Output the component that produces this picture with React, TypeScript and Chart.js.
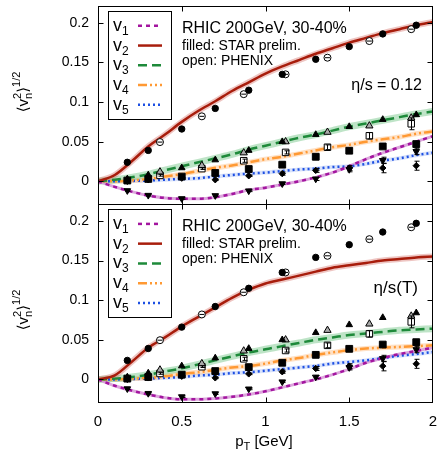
import React, { useEffect, useRef } from "react";
import { Chart, registerables } from "chart.js";

Chart.register(...registerables);

const FONT = '"Liberation Sans", "DejaVu Sans", Arial, sans-serif';

// ---- model curves (pT grid in GeV) ----
const ptModel = [0, 0.1, 0.2, 0.3, 0.4, 0.5, 0.6, 0.7, 0.8, 0.9, 1.0, 1.1, 1.2, 1.3, 1.4, 1.5, 1.6, 1.7, 1.8, 1.9, 2.0];

// top panel: eta/s = 0.12
const v1Const = [0, -0.007, -0.013, -0.018, -0.021, -0.022, -0.022, -0.02, -0.016, -0.011, -0.008, -0.004, 0.0, 0.005, 0.011, 0.019, 0.028, 0.036, 0.043, 0.05, 0.057];
const v2Const = [0, 0.008, 0.025, 0.044, 0.059, 0.075, 0.089, 0.101, 0.114, 0.125, 0.136, 0.145, 0.153, 0.161, 0.168, 0.175, 0.181, 0.187, 0.192, 0.197, 0.201];
const v3Const = [0, 0.002, 0.005, 0.009, 0.014, 0.019, 0.024, 0.029, 0.034, 0.04, 0.045, 0.05, 0.055, 0.059, 0.064, 0.069, 0.073, 0.077, 0.081, 0.085, 0.088];
const v4Const = [0, 0.0, 0.001, 0.003, 0.006, 0.009, 0.013, 0.017, 0.02, 0.024, 0.028, 0.031, 0.035, 0.039, 0.043, 0.046, 0.05, 0.053, 0.056, 0.06, 0.063];
const v5Const = [0, 0.0, 0.0005, 0.001, 0.002, 0.003, 0.004, 0.006, 0.008, 0.0097, 0.011, 0.013, 0.015, 0.016, 0.018, 0.019, 0.022, 0.026, 0.029, 0.033, 0.036];

// bottom panel: eta/s(T)
const v1Temp = [0, -0.008, -0.014, -0.019, -0.023, -0.025, -0.025, -0.024, -0.022, -0.019, -0.015, -0.01, -0.005, 0.0, 0.006, 0.013, 0.021, 0.027, 0.032, 0.036, 0.04];
const v2Temp = [0, 0.005, 0.022, 0.04, 0.053, 0.067, 0.079, 0.091, 0.103, 0.113, 0.121, 0.126, 0.131, 0.136, 0.141, 0.144, 0.147, 0.15, 0.152, 0.154, 0.155];
const v3Temp = [0, 0.001, 0.003, 0.006, 0.01, 0.014, 0.019, 0.024, 0.029, 0.034, 0.038, 0.042, 0.046, 0.05, 0.053, 0.056, 0.058, 0.06, 0.062, 0.063, 0.064];
const v4Temp = [0, 0.0, 0.001, 0.002, 0.004, 0.007, 0.009, 0.012, 0.015, 0.017, 0.02, 0.024, 0.027, 0.031, 0.034, 0.037, 0.039, 0.04, 0.041, 0.042, 0.043];
const v5Temp = [0, 0.0, 0.0005, 0.001, 0.002, 0.003, 0.005, 0.006, 0.008, 0.009, 0.011, 0.013, 0.015, 0.017, 0.02, 0.022, 0.024, 0.027, 0.03, 0.032, 0.0345];

// ---- STAR preliminary (filled) ----
const ptStar = [0.175, 0.3, 0.5, 0.7, 0.9, 1.1, 1.3, 1.5, 1.7, 1.9];
const v1Star = [-0.0117, -0.0176, -0.0218, -0.018, -0.012, -0.003, 0.003, 0.015, 0.0264, 0.0377];
const v1StarErr = [0.001, 0.001, 0.001, 0.001, 0.001, 0.001, 0.002, 0.003, 0.004, 0.004];
const v2Star = [0.024, 0.039, 0.066, 0.092, 0.115, 0.135, 0.154, 0.17, 0.186, 0.197];
const v3Star = [0.003, 0.008, 0.017, 0.027, 0.039, 0.05, 0.059, 0.069, 0.078, 0.084];
const v4Star = [0.001, 0.003, 0.006, 0.0105, 0.0155, 0.021, 0.031, 0.0386, 0.044, 0.047];
const v5Star = [0.0, 0.002, 0.004, 0.002, 0.007, 0.0097, 0.0138, 0.0168, 0.0168, 0.0197];
const v5StarErr = [0.002, 0.001, 0.001, 0.001, 0.001, 0.002, 0.0025, 0.003, 0.006, 0.0057];

// ---- PHENIX (open) ----
const ptPhenix = [0.37, 0.62, 0.87, 1.12, 1.37, 1.62, 1.87];
const v2Phenix = [0.0495, 0.082, 0.11, 0.135, 0.156, 0.177, 0.192];
const v3Phenix = [0.012, 0.02, 0.036, 0.05, 0.062, 0.07, 0.08];
const v4Phenix = [0.0075, 0.016, 0.026, 0.0365, 0.043, 0.0575, 0.0726];
const v4PhenixErr = [0.001, 0.001, 0.002, 0.002, 0.003, 0.004, 0.0075];

const yTickValues = [0, 0.05, 0.1, 0.15, 0.2];
const xTickValues = [0, 0.5, 1, 1.5, 2];
const harmonicLabels = ["1", "2", "3", "4", "5"];
const headerLines = ["RHIC 200GeV, 30-40%", "filled: STAR prelim.", "open: PHENIX"];
const panelNotes = ["\u03b7/s = 0.12", "\u03b7/s(T)"];

// ---- styles ----
const curveStyles = [
  { color: "#a3159f", band: "rgba(215,150,215,0.85)", bandWidth: 3, dash: [4, 4], width: 2.5 },
  { color: "#a81d0c", band: "rgba(205,90,80,0.35)", bandWidth: 6, dash: [], width: 2.5 },
  { color: "#1e8a3a", band: "rgba(110,195,130,0.45)", bandWidth: 7, dash: [9, 5], width: 2.5 },
  { color: "#ff9933", band: "rgba(255,195,140,0.5)", bandWidth: 5, dash: [9, 3, 2, 3, 2, 3], width: 2.5 },
  { color: "#1c4fe3", band: "rgba(130,160,240,0.3)", bandWidth: 4, dash: [2, 3], width: 2.5 },
];
const noteLayout = [
  { right: 422, base: 84, size: 16 },
  { right: 418, base: 89, size: 17 },
];
const yTitleCenters = [92, 310];

type Seg = { t: string; size: number; dy: number; stack?: boolean };

function drawSegs(ctx: CanvasRenderingContext2D, segs: Seg[], x: number, y: number, measureOnly = false): number {
  let cx = x;
  let lastStart = x;
  let lastW = 0;
  for (const s of segs) {
    ctx.font = `${s.size}px ${FONT}`;
    const sw = ctx.measureText(s.t).width;
    if (s.stack) {
      if (!measureOnly) ctx.fillText(s.t, lastStart, y + s.dy);
      const nw = Math.max(lastW, sw);
      cx = lastStart + nw;
      lastW = nw;
    } else {
      if (!measureOnly) ctx.fillText(s.t, cx, y + s.dy);
      lastStart = cx;
      lastW = sw;
      cx += sw;
    }
  }
  return cx - x;
}

const decorPlugin = {
  id: "decor",
  afterDatasetsDraw(chart: any) {
    const ctx: CanvasRenderingContext2D = chart.ctx;
    chart.data.datasets.forEach((ds: any, i: number) => {
      if (!ds.errs) return;
      const meta = chart.getDatasetMeta(i);
      const sc = chart.scales[ds.yAxisID];
      ctx.save();
      ctx.strokeStyle = "#000";
      ctx.lineWidth = 1;
      meta.data.forEach((pt: any, j: number) => {
        const e = ds.errs[j];
        if (!e) return;
        const v = ds.data[j].y;
        const y1 = sc.getPixelForValue(v + e);
        const y2 = sc.getPixelForValue(v - e);
        const x = Math.round(pt.x) + 0.5;
        ctx.beginPath();
        ctx.moveTo(x, y1);
        ctx.lineTo(x, y2);
        ctx.moveTo(x - 2, y1);
        ctx.lineTo(x + 3, y1);
        ctx.moveTo(x - 2, y2);
        ctx.lineTo(x + 3, y2);
        ctx.stroke();
      });
      ctx.restore();
    });
  },
  afterDraw(chart: any) {
    const ctx: CanvasRenderingContext2D = chart.ctx;
    const xs = chart.scales.x;
    const panels = [chart.scales.yTop, chart.scales.yBot];
    ctx.save();
    ctx.fillStyle = "#000";
    ctx.strokeStyle = "#000";
    ctx.textAlign = "left";
    ctx.textBaseline = "alphabetic";
    panels.forEach((ys: any, p: number) => {
      const L = Math.round(xs.left) + 0.5;
      const R = Math.round(xs.right) - 0.5;
      const T = Math.round(ys.top) + 0.5;
      const B = Math.round(ys.bottom) + 0.5;
      ctx.lineWidth = 1;
      ctx.setLineDash([]);
      ctx.strokeRect(L, T, R - L, B - T);
      ctx.beginPath();
      yTickValues.forEach((v) => {
        const y = Math.round(ys.getPixelForValue(v)) + 0.5;
        ctx.moveTo(L, y);
        ctx.lineTo(L + 5, y);
        ctx.moveTo(R, y);
        ctx.lineTo(R - 5, y);
      });
      xTickValues.slice(1, -1).forEach((v) => {
        const x = Math.round(xs.getPixelForValue(v)) + 0.5;
        ctx.moveTo(x, B);
        ctx.lineTo(x, B - 5);
        ctx.moveTo(x, T);
        ctx.lineTo(x, T + 5);
      });
      ctx.stroke();

      const pt = ys.top;
      // legend box
      ctx.fillStyle = "#fff";
      ctx.fillRect(108, pt + 5.5, 63, 108);
      ctx.strokeRect(108.5, Math.round(pt + 5.5) + 0.5, 63, 108);
      ctx.fillStyle = "#000";
      harmonicLabels.forEach((lab, i) => {
        const sy = pt + 20 + i * 19.75;
        drawSegs(ctx, [{ t: "v", size: 18, dy: 0 }, { t: lab, size: 12, dy: 4 }], 113, sy + 5);
        const st = curveStyles[i];
        ctx.save();
        ctx.lineCap = "butt";
        ctx.beginPath();
        ctx.moveTo(138, sy);
        ctx.lineTo(162, sy);
        ctx.strokeStyle = st.color;
        ctx.lineWidth = st.width;
        ctx.setLineDash(st.dash);
        ctx.stroke();
        ctx.restore();
      });
      // header text
      ctx.fillStyle = "#000";
      ctx.font = `16px ${FONT}`;
      ctx.fillText(headerLines[0], 182, pt + 27);
      ctx.font = `14px ${FONT}`;
      ctx.fillText(headerLines[1], 182, pt + 44);
      ctx.fillText(headerLines[2], 182, pt + 59.5);
      // note
      const nl = noteLayout[p];
      ctx.textAlign = "right";
      ctx.font = `${nl.size}px ${FONT}`;
      ctx.fillText(panelNotes[p], nl.right, pt + nl.base);
      ctx.textAlign = "left";

      // y title
      const ySegs: Seg[] = [
        { t: "\u27e8v", size: 15, dy: 0 },
        { t: "n", size: 11, dy: 4 },
        { t: "2", size: 11, dy: -7, stack: true },
        { t: "\u27e9", size: 15, dy: 0 },
        { t: "1/2", size: 11, dy: -8 },
      ];
      const w = drawSegs(ctx, ySegs, 0, 0, true);
      ctx.save();
      ctx.translate(27.5, yTitleCenters[p]);
      ctx.rotate(-Math.PI / 2);
      drawSegs(ctx, ySegs, -w / 2, 0);
      ctx.restore();
    });
    // x title
    const xSegs: Seg[] = [
      { t: "p", size: 15, dy: 0 },
      { t: "T", size: 11, dy: 4 },
      { t: " [GeV]", size: 15, dy: 0 },
    ];
    const xw = drawSegs(ctx, xSegs, 0, 0, true);
    drawSegs(ctx, xSegs, 264 - xw / 2, 446);
    ctx.restore();
  },
};

function pts(xs: number[], ys: number[]) {
  return xs.map((x, i) => ({ x, y: ys[i] }));
}

function buildDatasets() {
  const ds: any[] = [];
  const panels = [
    { id: "yTop", curves: [v1Const, v2Const, v3Const, v4Const, v5Const] },
    { id: "yBot", curves: [v1Temp, v2Temp, v3Temp, v4Temp, v5Temp] },
  ];
  panels.forEach((p) => {
    p.curves.forEach((c, i) => {
      const st = curveStyles[i];
      ds.push({
        data: pts(ptModel, c), yAxisID: p.id, showLine: true, pointRadius: 0,
        borderColor: st.band, borderWidth: st.bandWidth, cubicInterpolationMode: "monotone", order: 4,
      });
      ds.push({
        data: pts(ptModel, c), yAxisID: p.id, showLine: true, pointRadius: 0,
        borderColor: st.color, borderWidth: st.width, borderDash: st.dash, cubicInterpolationMode: "monotone", order: 3,
      });
    });
    const mk = (x: number[], y: number[], style: any, extra: any = {}) =>
      ds.push({ data: pts(x, y), yAxisID: p.id, showLine: false, pointBorderColor: "#000", pointBorderWidth: 1, order: 1, ...style, ...extra });
    mk(ptStar, v1Star, { pointStyle: "triangle", pointRotation: 180, pointRadius: 3.8, pointBackgroundColor: "#000" }, { errs: v1StarErr });
    mk(ptStar, v2Star, { pointStyle: "circle", pointRadius: 3.2, pointBackgroundColor: "#000" });
    mk(ptStar, v3Star, { pointStyle: "triangle", pointRadius: 3.8, pointBackgroundColor: "#000" });
    mk(ptStar, v4Star, { pointStyle: "rect", pointRadius: 4.8, pointBackgroundColor: "#000" });
    mk(ptStar, v5Star, { pointStyle: "rectRot", pointRadius: 3.2, pointBackgroundColor: "#000" }, { errs: v5StarErr });
    mk(ptPhenix, v2Phenix, { pointStyle: "circle", pointRadius: 3.5, pointBackgroundColor: "#fff" });
    mk(ptPhenix, v2Phenix, { pointStyle: "line", pointRadius: 2.5, pointBackgroundColor: "#000", order: 0 });
    mk(ptPhenix, v3Phenix, { pointStyle: "triangle", pointRadius: 4.2, pointBackgroundColor: "#aaa" });
    mk(ptPhenix, v4Phenix, { pointStyle: "rect", pointRadius: 4.6, pointBackgroundColor: "#fff" }, { errs: v4PhenixErr });
  });
  return ds;
}

function yScale(weight: number) {
  return {
    type: "linear",
    position: "left",
    stack: "panels",
    stackWeight: 1,
    weight,
    min: -0.0285,
    max: 0.2215,
    grid: { display: false, drawTicks: false },
    border: { display: false },
    ticks: {
      padding: 9,
      color: "#000",
      font: { family: FONT, size: 14 },
      callback: (v: number) => String(Math.round(v * 100) / 100),
    },
    afterBuildTicks: (s: any) => {
      s.ticks = yTickValues.map((v) => ({ value: v }));
    },
    afterFit: (s: any) => {
      s.width = 98;
      s.paddingTop = 0;
      s.paddingBottom = 0;
    },
  };
}

export default function App() {
  const ref = useRef<HTMLCanvasElement | null>(null);
  useEffect(() => {
    if (!ref.current) return;
    const chart = new Chart(ref.current, {
      type: "scatter",
      data: { datasets: buildDatasets() },
      options: {
        animation: false,
        responsive: false,
        devicePixelRatio: 1,
        events: [],
        layout: { padding: { top: 5, right: 8, left: 0, bottom: 0 } },
        plugins: { legend: { display: false }, tooltip: { enabled: false } },
        scales: {
          x: {
            type: "linear",
            position: "bottom",
            min: 0,
            max: 2,
            grid: { display: false, drawTicks: false },
            border: { display: false },
            ticks: {
              padding: 11,
              color: "#000",
              maxRotation: 0,
              autoSkip: false,
              font: { family: FONT, size: 15 },
              callback: (v: number) => String(v),
            },
            afterBuildTicks: (s: any) => {
              s.ticks = xTickValues.map((v) => ({ value: v }));
            },
            afterFit: (s: any) => {
              s.height = 50;
              s.paddingLeft = 0;
              s.paddingRight = 0;
            },
          },
          yBot: yScale(1),
          yTop: yScale(2),
        },
      } as any,
      plugins: [decorPlugin],
    });
    return () => chart.destroy();
  }, []);
  return (
    <div style={{ position: "absolute", left: 0, top: 0, width: 441, height: 452, background: "#fff" }}>
      <canvas ref={ref} width={441} height={452} style={{ display: "block" }} />
    </div>
  );
}
